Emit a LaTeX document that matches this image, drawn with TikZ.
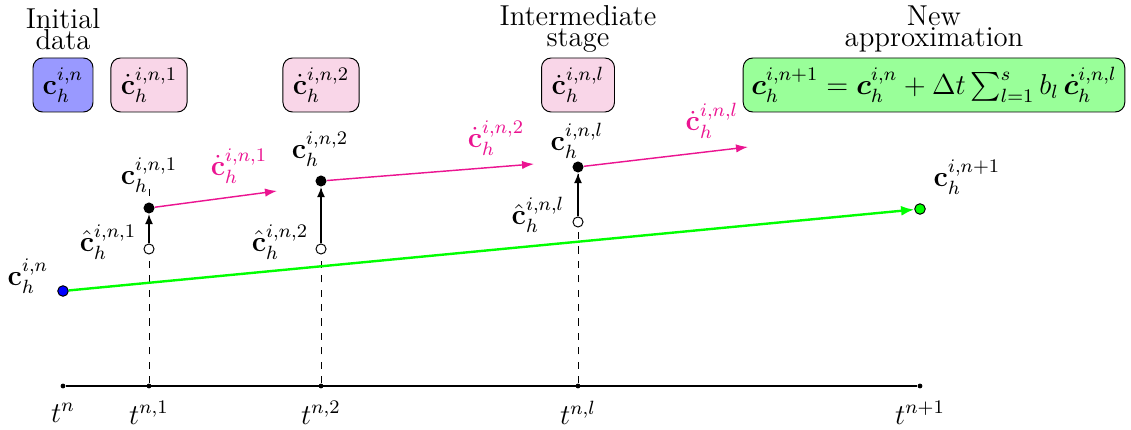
\documentclass[tikz,border=0pt]{standalone}
\usepackage{amsmath,bm}
\usetikzlibrary{arrows.meta}
\definecolor{pinkc}{RGB}{235,20,145}
\definecolor{pinkfill}{RGB}{249,214,232}
\definecolor{bluefill}{RGB}{153,153,255}
\definecolor{greenfill}{RGB}{153,255,153}
\begin{document}
\begin{tikzpicture}[x=0.4167pt,y=-0.4167pt,
  box/.style={draw, rounded corners=4pt, minimum height=22.5pt, inner sep=1pt, font=\large},
  title/.style={align=center, font=\large, inner sep=0pt},
  lab/.style={font=\large, inner sep=0pt},
  plab/.style={font=\large, text=pinkc, inner sep=0pt},
  fdot/.style={circle, draw, inner sep=0pt, minimum size=4.4pt},
  hollow/.style={circle, draw, fill=white, inner sep=0pt, minimum size=4.2pt},
  sdot/.style={circle, fill=black, inner sep=0pt, minimum size=4.6pt},
  tickdot/.style={circle, fill=black, inner sep=0pt, minimum size=2pt},
  parrow/.style={pinkc, -{Latex[length=5pt,width=3.5pt]}, semithick},
  garrow/.style={green, -{Latex[length=5.5pt,width=4.2pt]}, line width=1pt},
  varrow/.style={-{Latex[length=4.2pt,width=3.3pt]}, semithick},
  axisline/.style={semithick},
  guide/.style={dashed, thin}
]
\useasboundingbox (0,0) rectangle (1131,430);

% titles
\node[title] (tinit) at (63,29) {Initial\\[-5pt]data};
\node[title] (tint) at (578,29) {Intermediate\\[-5pt]stage};
\node[title] (tnew) at (934,29) {New\\[-5pt]approximation};

% boxes
\node[box, fill=bluefill, minimum width=25pt] (b0) at (63,85) {$\mathbf{c}_h^{i,n}$};
\node[box, fill=pinkfill, minimum width=31.7pt] (b1) at (149,85) {$\dot{\mathbf{c}}_h^{i,n,1}$};
\node[box, fill=pinkfill, minimum width=31.7pt] (b2) at (321,85) {$\dot{\mathbf{c}}_h^{i,n,2}$};
\node[box, fill=pinkfill, minimum width=30.4pt] (bl) at (578,85) {$\dot{\mathbf{c}}_h^{i,n,l}$};
\node[box, fill=greenfill, minimum width=159pt] (bn) at (934,85)
  {$\boldsymbol{c}_h^{i,n+1} = \boldsymbol{c}_h^{i,n} + \Delta t\sum_{l=1}^{s} b_l\,\dot{\boldsymbol{c}}_h^{i,n,l}$};

% axis
\node[tickdot] (a0) at (63,386) {};
\node[tickdot] (a1) at (149,386) {};
\node[tickdot] (a2) at (321,386) {};
\node[tickdot] (al) at (578,386) {};
\node[tickdot] (a4) at (920,386) {};
\draw[axisline] (a0) -- (a4);
\node[lab] (t0) at (63,413) {$t^{n}$};
\node[lab] (t1) at (149,413) {$t^{n,1}$};
\node[lab] (t2) at (321,413) {$t^{n,2}$};
\node[lab] (tl) at (578,413) {$t^{n,l}$};
\node[lab] (t4) at (920,413) {$t^{n+1}$};

% guide tops
\coordinate (g1) at (149,182);
\coordinate (g2) at (321,182);
\coordinate (gl) at (578,167);
\draw[guide] (a1) -- (g1);
\draw[guide] (a2) -- (g2);
\draw[guide] (al) -- (gl);

% points
\node[fdot, fill=blue] (cn) at (63,291) {};
\node[fdot, fill=green] (cn1) at (920,209) {};
\node[hollow] (h1) at (149,249) {};
\node[hollow] (h2) at (321,249) {};
\node[hollow] (hl) at (578,222) {};
\node[sdot] (s1) at (149,208) {};
\node[sdot] (s2) at (321,181) {};
\node[sdot] (sl) at (578,167) {};

% connectors
\draw[garrow] (cn) -- (cn1);
\draw[varrow] (h1) -- (s1);
\draw[varrow] (h2) -- (s2);
\draw[varrow] (hl) -- (sl);
\coordinate (e1) at (277,191);
\coordinate (e2) at (534,164);
\coordinate (el) at (748,147);
\draw[parrow] (s1) -- (e1);
\draw[parrow] (s2) -- (e2);
\draw[parrow] (sl) -- (el);

% labels
\node[lab] (lcn) at (28,276) {$\mathbf{c}_h^{i,n}$};
\node[lab] (lcn1) at (967,177) {$\mathbf{c}_h^{i,n+1}$};
\node[lab] (ls1) at (149,175) {$\mathbf{c}_h^{i,n,1}$};
\node[lab] (ls2) at (320,149) {$\mathbf{c}_h^{i,n,2}$};
\node[lab] (lsl) at (577,141) {$\mathbf{c}_h^{i,n,l}$};
\node[lab] (lh1) at (108,242) {$\hat{\mathbf{c}}_h^{i,n,1}$};
\node[lab] (lh2) at (280,242) {$\hat{\mathbf{c}}_h^{i,n,2}$};
\node[lab] (lhl) at (538,215) {$\hat{\mathbf{c}}_h^{i,n,l}$};
\node[plab] (ld1) at (239,166) {$\dot{\mathbf{c}}_h^{i,n,1}$};
\node[plab] (ld2) at (496,138) {$\dot{\mathbf{c}}_h^{i,n,2}$};
\node[plab] (ldl) at (712,121) {$\dot{\mathbf{c}}_h^{i,n,l}$};
\end{tikzpicture}
\end{document}
